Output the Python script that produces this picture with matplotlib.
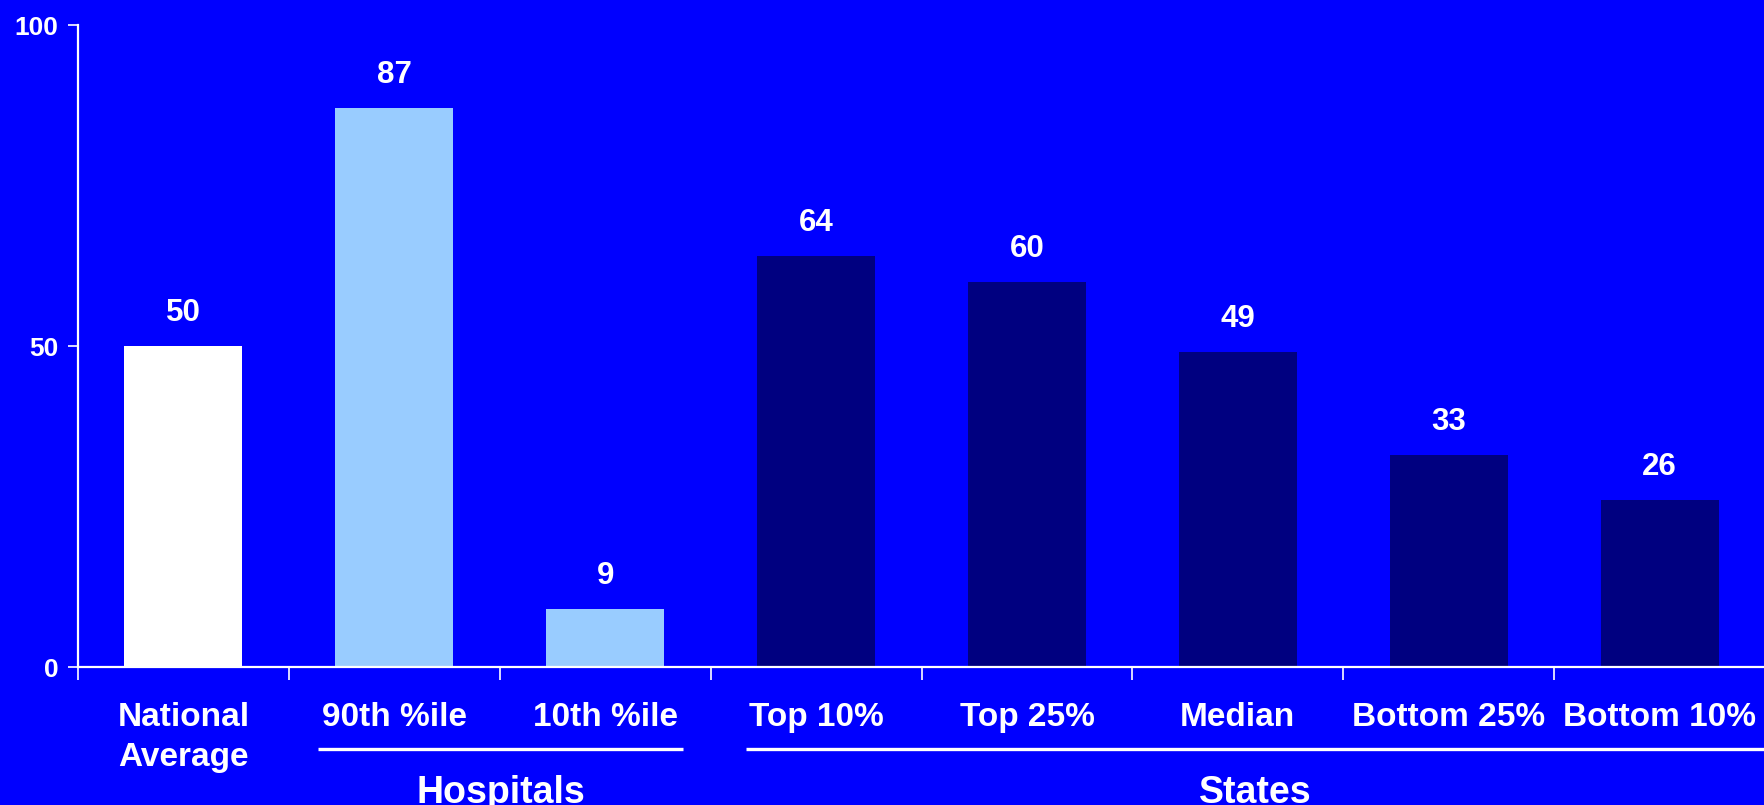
import matplotlib
matplotlib.use("Agg")
import matplotlib.pyplot as plt

categories = ["National\nAverage", "90th %ile", "10th %ile", "Top 10%", "Top 25%",
              "Median", "Bottom 25%", "Bottom 10%"]
values = [50, 87, 9, 64, 60, 49, 33, 26]
bar_colors = ["#FFFFFF", "#99CCFF", "#99CCFF", "#000080", "#000080",
              "#000080", "#000080", "#000080"]
groups = ["Hospitals", "States"]
y_ticks = [0, 50, 100]

BG = "#0000FF"
FG = "#FFFFFF"
plt.rcParams["font.family"] = ["Liberation Sans", "DejaVu Sans"]
plt.rcParams["font.weight"] = "bold"

fig = plt.figure(figsize=(17.65, 8.05), dpi=100, facecolor=BG)
ax = fig.add_axes([0.0442, 0.1714, 0.9558, 0.7975], facecolor=BG)

x = list(range(len(values)))
ax.bar(x, values, width=0.56, color=bar_colors, edgecolor="none", zorder=2)

for xi, v in zip(x, values):
    ax.annotate(f"{v}", (xi, v), xytext=(0, 13), textcoords="offset points",
                ha="center", va="bottom", color=FG, fontsize=22.5, fontweight="bold")

ax.set_xlim(-0.5, len(values) - 0.5)
ax.set_ylim(0, 100)

for side in ("top", "right"):
    ax.spines[side].set_visible(False)
for side in ("left", "bottom"):
    ax.spines[side].set_color(FG)
    ax.spines[side].set_linewidth(1.6)
ax.spines["bottom"].set_bounds(-0.5, len(values) - 0.5)

ax.set_yticks(y_ticks)
ax.set_yticklabels([str(t) for t in y_ticks])
ax.tick_params(axis="y", colors=FG, length=7, width=1.2, pad=7, labelsize=19)

ax.set_xticks(x)
ax.set_xticklabels(categories, linespacing=1.4)
ax.tick_params(axis="x", which="major", length=0, pad=25, labelsize=24, colors=FG)
ax.set_xticks([i - 0.5 for i in range(len(values) + 1)], minor=True)
ax.tick_params(axis="x", which="minor", length=9, width=1.2, color=FG, direction="out")
for lbl in ax.get_xticklabels() + ax.get_yticklabels():
    lbl.set_fontweight("bold")

# group brackets under the category labels
trans = ax.get_xaxis_transform()
spans = [(0.64, 2.37), (2.67, 7.5)]
for name, (x0, x1) in zip(groups, spans):
    ax.plot([x0, x1], [-0.128, -0.128], transform=trans, color=FG, lw=2.4,
            clip_on=False, solid_capstyle="butt")
    ax.text((x0 + x1) / 2, -0.168, name, transform=trans, ha="center", va="top",
            color=FG, fontsize=27, fontweight="bold")

fig.savefig("out.png", dpi=100, facecolor=BG)
